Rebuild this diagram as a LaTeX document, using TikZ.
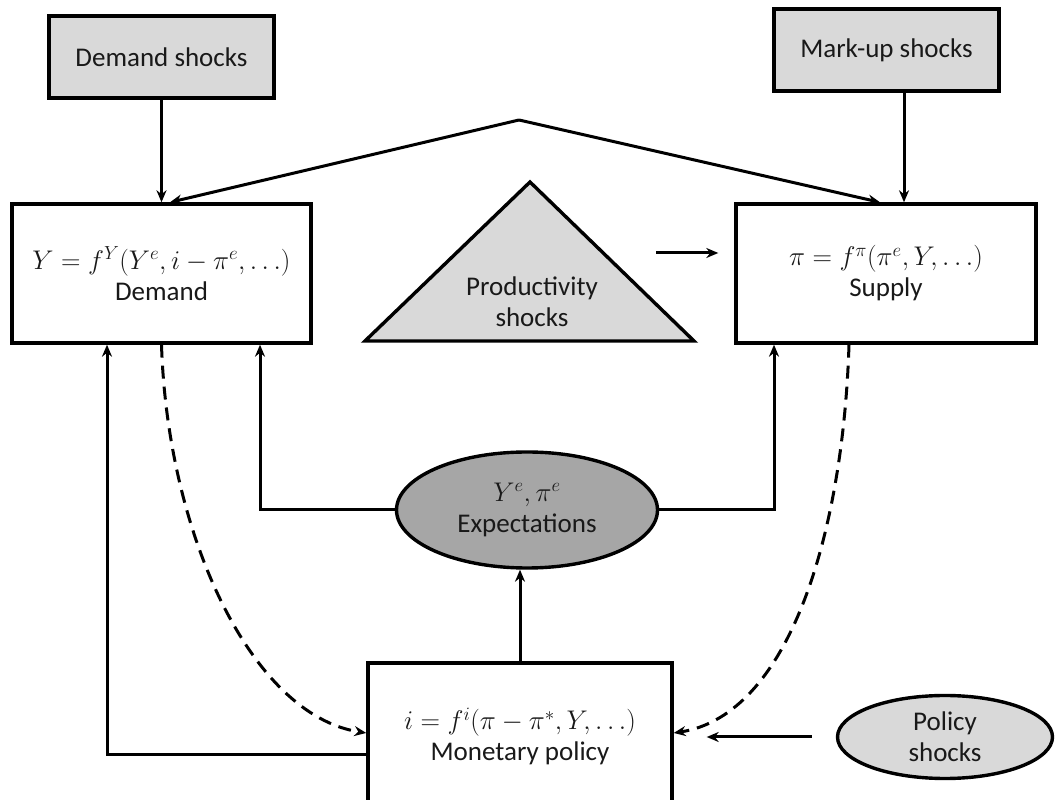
\RequirePackage{fix-cm}
\documentclass[tikz,border=0pt]{standalone}
\usepackage{fontspec}
\setmainfont{Carlito}
\usetikzlibrary{positioning, shapes.geometric, arrows.meta, calc}

\definecolor{shockgray}{HTML}{D9D9D9}
\definecolor{expgray}{HTML}{A6A6A6}

\begin{document}
\begin{tikzpicture}[
    x=1pt, y=1pt,
    % Define styles
    base/.style={draw, line width=3.4pt, align=center, text=black!90, font=\fontsize{27}{31}\selectfont, inner sep=2pt},
    shockbox/.style={base, rectangle, fill=shockgray, minimum width=225, minimum height=82},
    eqbox/.style={base, rectangle, fill=white, minimum width=299, minimum height=139},
    expoval/.style={base, ellipse, fill=expgray, minimum width=261, minimum height=116, inner sep=0pt},
    shockoval/.style={base, ellipse, fill=shockgray, minimum width=215, minimum height=83, inner sep=0pt},
    arrow/.style={-{Stealth[length=12pt, width=10pt]}, line width=3pt},
    dasharrow/.style={arrow, dash pattern=on 13pt off 8pt}
]
    \useasboundingbox (0,0) rectangle (1057,800);

    % --- SHOCKS ON TOP ---
    \node (demshock) [shockbox] at (161.5,743) {Demand shocks};
    \node (markshock) [shockbox] at (886.5,750) {Mark-up shocks};

    % --- DEMAND AND SUPPLY ---
    \node (demand) [eqbox] at (161.5,526.5) {$Y=f^{Y}(Y^{e},i-\pi^{e},\ldots)$\\Demand};
    \node (supply) [eqbox, minimum width=300] at (886,526.5) {$\pi=f^{\pi}(\pi^{e},Y,\ldots)$\\Supply};

    % --- PRODUCTIVITY TRIANGLE ---
    \coordinate (triL) at (365,459);
    \coordinate (triT) at (530,618);
    \coordinate (triR) at (694,459);
    \draw [line width=3.4pt, fill=shockgray] (triL) -- (triT) -- (triR) -- cycle;
    \node (prod) [align=center, text=black!90, font=\fontsize{27}{31}\selectfont] at (532,498) {Productivity\\shocks};
    \coordinate (prodout) at (656,547);
    \coordinate (vtop) at (519,680);

    % --- EXPECTATIONS AND POLICY ---
    \node (expect) [expoval] at (527,290) {$Y^{e},\pi^{e}$\\Expectations};
    \node (monetary) [eqbox, minimum width=304, minimum height=147] at (520,63.5) {$i=f^{i}(\pi-\pi^{*},Y,\ldots)$\\Monetary policy};
    \node (policy) [shockoval] at (945,63) {Policy\\shocks};

    % --- DRAW CONNECTIONS ---
    \draw [arrow] (demshock.south) -- (demand.north);
    \draw [arrow] ([xshift=17.5pt]markshock.south) -- ([xshift=17.5pt]markshock.south |- supply.north);

    % Common shock lines from the apex
    \draw [arrow] (vtop) -- ([xshift=8.5pt]demand.north);
    \draw [arrow] (vtop) -- ([xshift=-6pt]supply.north);

    \draw [arrow, shorten >=16pt] (prodout) -- (prodout -| supply.west);

    % Expectations feed both blocks
    \draw [arrow] (expect.west) -| ([xshift=98.5pt]demand.south);
    \draw [arrow] (expect.east) -| ([xshift=-112pt]supply.south);
    \draw [arrow] (monetary.north) -- (monetary.north |- expect.south);

    % Policy rate back to demand
    \draw [arrow] ([yshift=-18.5pt]monetary.west) -| ([xshift=-54.5pt]demand.south);

    % Dashed feedback into the policy rule
    \draw [dasharrow] (demand.south) .. controls +(6,-190) and +(-115,18) .. ([yshift=3.5pt]monetary.west);
    \draw [dasharrow] ([xshift=-37pt]supply.south) .. controls +(-6,-190) and +(115,18) .. ([yshift=3.5pt]monetary.east);

    \draw [arrow, shorten <=24pt, shorten >=33pt] (policy.west) -- (policy.west -| monetary.east);

\end{tikzpicture}
\end{document}
